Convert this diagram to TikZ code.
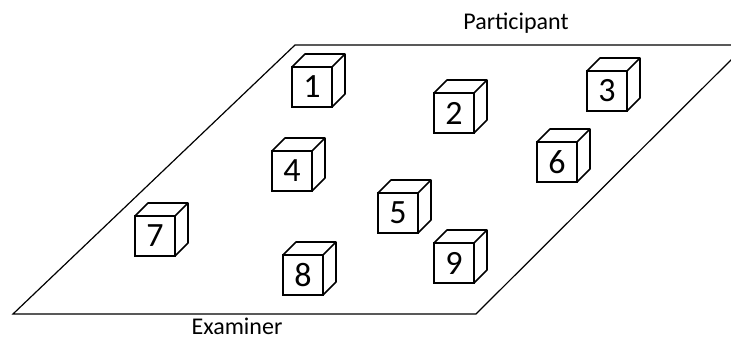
\documentclass[tikz,border=0pt]{standalone}
\usepackage{fontspec}
\setmainfont{Carlito}

\tikzset{
  cube/.style={draw, line width=1.6pt, minimum size=40pt, inner sep=0pt, outer sep=0pt,
               font=\fontsize{34}{36}\selectfont},
  lbl/.style={anchor=base, inner sep=0pt, font=\fontsize{24}{28}\selectfont}
}

\begin{document}
\begin{tikzpicture}[x=1pt, y=-1pt]
    \useasboundingbox (0,0) rectangle (731,340);
    \clip (0,0) rectangle (731,340);

    % Table top
    \coordinate (bl) at (13,314);
    \coordinate (tl) at (295,45);
    \coordinate (tr) at (746,45);
    \coordinate (br) at (476,314);
    \draw[line width=1.2pt, line join=miter] (bl) -- (tl) -- (tr) -- (br) -- cycle;

    % Cubes - front faces
    \node[cube] (c1) at (312,87) {1};
    \node[cube] (c2) at (454,113) {2};
    \node[cube] (c3) at (607,91) {3};
    \node[cube] (c4) at (292,171) {4};
    \node[cube] (c5) at (398,213) {5};
    \node[cube] (c6) at (557,162) {6};
    \node[cube] (c7) at (155,236) {7};
    \node[cube] (c8) at (303,275) {8};
    \node[cube] (c9) at (454,263) {9};

    % Cubes - top and side faces
    \foreach \c in {c1,c2,c3,c4,c5,c6,c7,c8,c9} {
        \draw[line width=1.6pt, line join=round] (\c.north west) -- ++(13,-13) -- ++(40,0) -- (\c.north east);
        \draw[line width=1.6pt, line join=round] (\c.south east) -- ++(13,-13) -- ++(0,-40);
    }

    % Labels
    \node[lbl] (participant) at (516,29) {Participant};
    \node[lbl] (examiner) at (237,334) {Examiner};
\end{tikzpicture}
\end{document}
